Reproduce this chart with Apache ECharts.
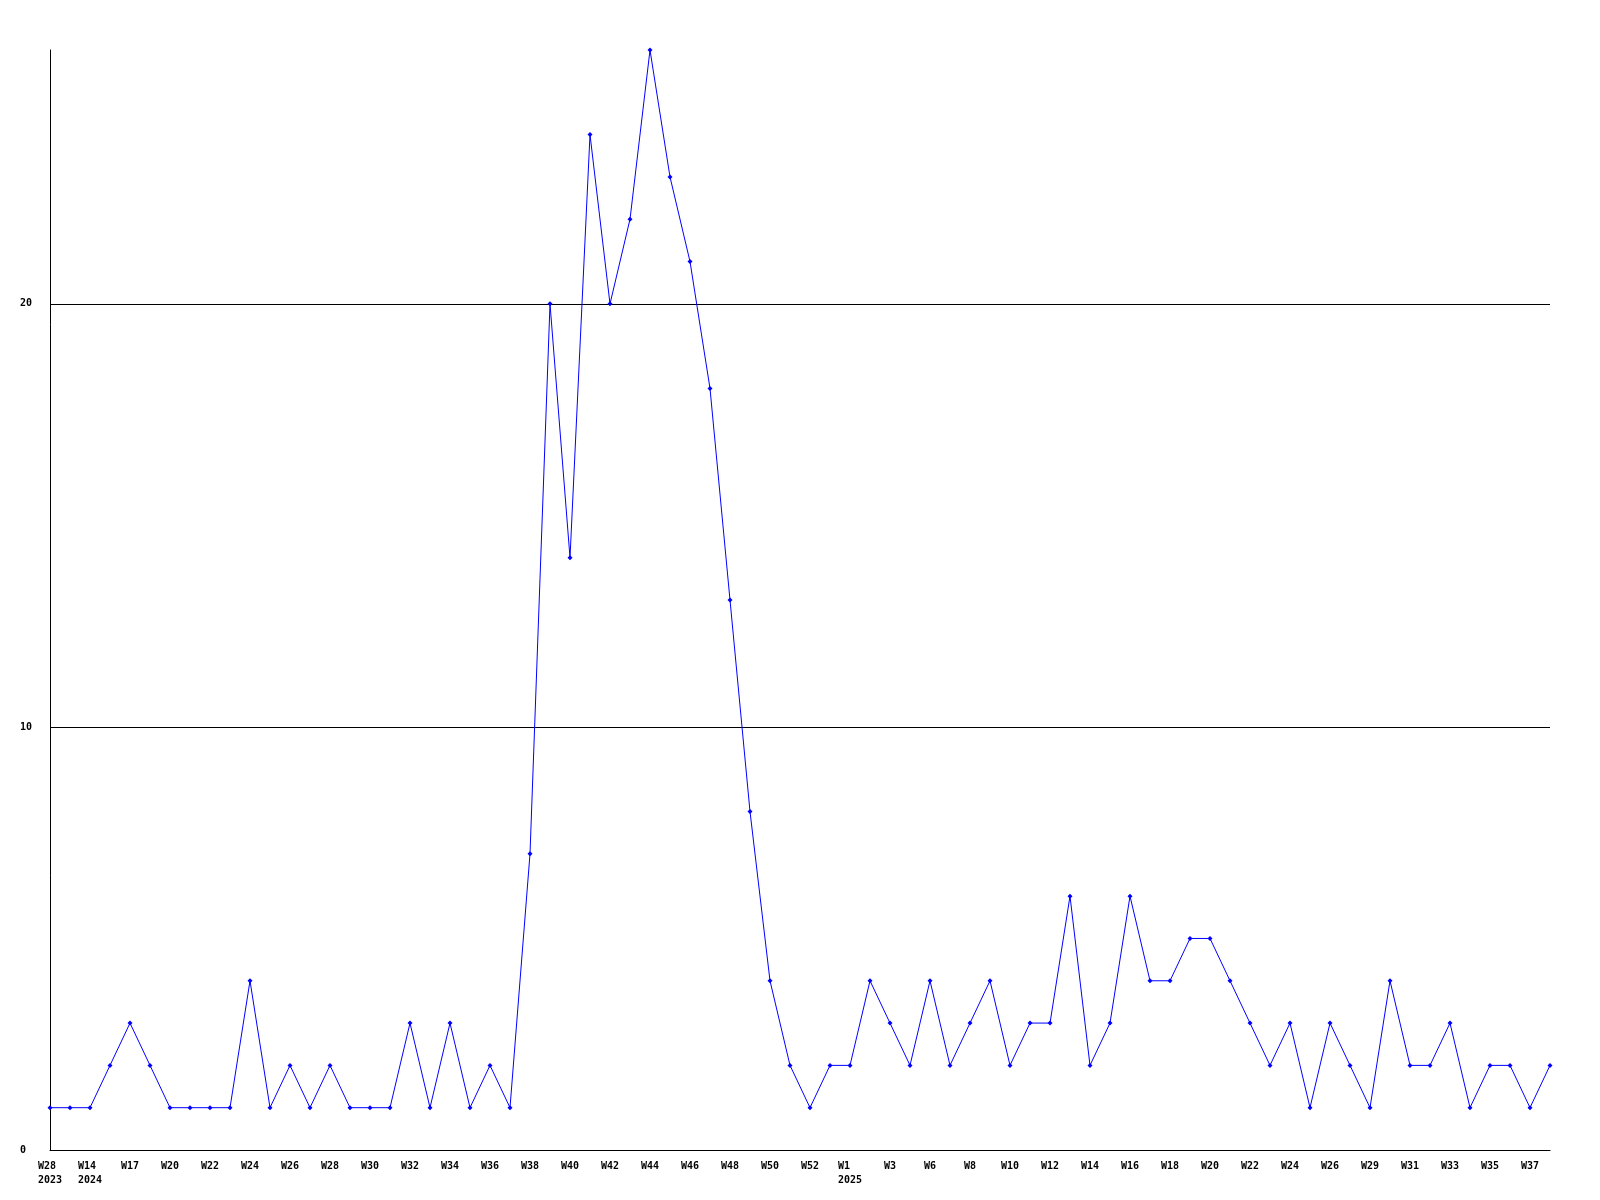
<!DOCTYPE html>
<html>
<head>
<meta charset="utf-8">
<script src="https://cdn.jsdelivr.net/npm/echarts@6/dist/echarts.min.js"></script>
<style>
  html, body { margin: 0; padding: 0; background: #fff; }
  #myChart { width: 1600px; height: 1200px; }
</style>
</head>
<body>
<div id="myChart"></div>
<script>
// week labels, one per data point (only every second one is shown on the axis)
var weeks = [
  'W28\n2023', 'W13', 'W14\n2024', 'W16', 'W17', 'W19', 'W20', 'W21', 'W22', 'W23',
  'W24', 'W25', 'W26', 'W27', 'W28', 'W29', 'W30', 'W31', 'W32', 'W33',
  'W34', 'W35', 'W36', 'W37', 'W38', 'W39', 'W40', 'W41', 'W42', 'W43',
  'W44', 'W45', 'W46', 'W47', 'W48', 'W49', 'W50', 'W51', 'W52', 'W53',
  'W1\n2025', 'W2', 'W3', 'W5', 'W6', 'W7', 'W8', 'W9', 'W10', 'W11',
  'W12', 'W13', 'W14', 'W15', 'W16', 'W17', 'W18', 'W19', 'W20', 'W21',
  'W22', 'W23', 'W24', 'W25', 'W26', 'W28', 'W29', 'W30', 'W31', 'W32',
  'W33', 'W34', 'W35', 'W36', 'W37', 'W38'
];

var counts = [
  1, 1, 1, 2, 3, 2, 1, 1, 1, 1,
  4, 1, 2, 1, 2, 1, 1, 1, 3, 1,
  3, 1, 2, 1, 7, 20, 14, 24, 20, 22,
  26, 23, 21, 18, 13, 8, 4, 2, 1, 2,
  2, 4, 3, 2, 4, 2, 3, 4, 2, 3,
  3, 6, 2, 3, 6, 4, 4, 5, 5, 4,
  3, 2, 3, 1, 3, 2, 1, 4, 2, 2,
  3, 1, 2, 2, 1, 2
];

var yTicks = [0, 10, 20];

var font = 'DejaVu Sans Mono';

var myChart = echarts.init(document.getElementById('myChart'));
myChart.setOption({
  animation: false,
  backgroundColor: '#ffffff',
  grid: { left: 50, right: 50, top: 50, bottom: 50 },
  xAxis: {
    type: 'category',
    boundaryGap: false,
    data: weeks,
    axisLine: { lineStyle: { color: '#000', width: 1 } },
    axisTick: { show: false },
    axisLabel: {
      interval: 1,
      margin: 9,
      color: '#000',
      fontFamily: font,
      fontWeight: 'bold',
      fontSize: 10,
      lineHeight: 14,
      // week and year lines sit flush left inside the label block
      formatter: function (value) {
        return value.split('\n').map(function (line) {
          return '{w|' + line + '}';
        }).join('\n');
      },
      rich: {
        w: {
          color: '#000',
          fontFamily: font,
          fontWeight: 'bold',
          fontSize: 10,
          lineHeight: 14,
          align: 'left'
        }
      }
    },
    splitLine: { show: false }
  },
  yAxis: {
    type: 'value',
    min: 0,
    max: 26,
    interval: 10,
    axisLine: { show: true, lineStyle: { color: '#000', width: 1 } },
    axisTick: { show: false },
    axisLabel: {
      align: 'left',
      margin: 30,
      color: '#000',
      fontFamily: font,
      fontWeight: 'bold',
      fontSize: 10,
      formatter: function (v) {
        return yTicks.indexOf(v) >= 0 ? String(v) : '';
      }
    },
    splitLine: {
      show: true,
      lineStyle: { color: ['#000', '#000', '#000', 'rgba(0,0,0,0)'], width: 1 }
    }
  },
  series: [
    {
      type: 'line',
      data: counts,
      symbol: 'diamond',
      symbolSize: 5,
      itemStyle: { color: '#0000ff' },
      lineStyle: { color: '#0000ff', width: 1 }
    }
  ]
});
</script>
</body>
</html>
